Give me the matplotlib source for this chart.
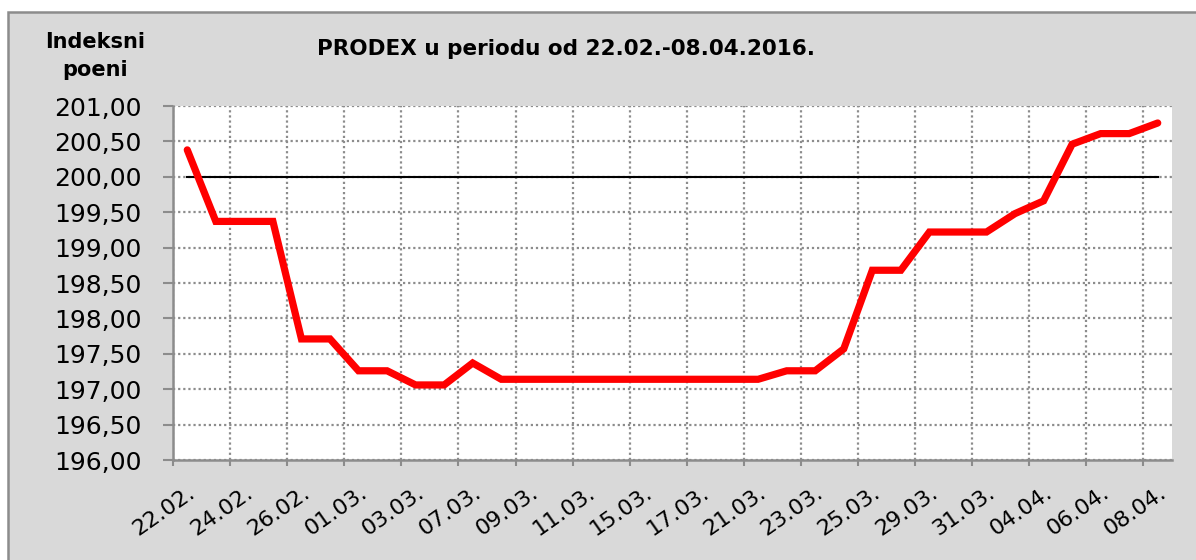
import matplotlib
matplotlib.use("Agg")
import matplotlib.pyplot as plt
from matplotlib.patches import Rectangle
from matplotlib.transforms import ScaledTranslation
import numpy as np

dates = ["22.02.", "23.02.", "24.02.", "25.02.", "26.02.", "29.02.",
         "01.03.", "02.03.", "03.03.", "04.03.", "07.03.", "08.03.",
         "09.03.", "10.03.", "11.03.", "14.03.", "15.03.", "16.03.",
         "17.03.", "18.03.", "21.03.", "22.03.", "23.03.", "24.03.",
         "25.03.", "28.03.", "29.03.", "30.03.", "31.03.", "01.04.",
         "04.04.", "05.04.", "06.04.", "07.04.", "08.04."]
prodex = [200.38, 199.37, 199.37, 199.37, 197.71, 197.71,
          197.26, 197.26, 197.06, 197.06, 197.37, 197.14,
          197.14, 197.14, 197.14, 197.14, 197.14, 197.14,
          197.14, 197.14, 197.14, 197.26, 197.26, 197.57,
          198.68, 198.68, 199.22, 199.22, 199.22, 199.48,
          199.66, 200.46, 200.61, 200.61, 200.76]
baseline = [200.0] * len(dates)
yticks = [196.0, 196.5, 197.0, 197.5, 198.0, 198.5, 199.0, 199.5, 200.0, 200.5, 201.0]

W, H = 1196, 560
fig = plt.figure(figsize=(W / 100, H / 100), dpi=100, facecolor="white")
bg = Rectangle((8 / W, -0.2), 1.2, 1 - 12 / H + 0.2, transform=fig.transFigure,
               facecolor="#d9d9d9", edgecolor="#8c8c8c", linewidth=1.8, zorder=-1)
fig.patches.append(bg)

ax = fig.add_axes([173 / W, 1 - 460 / H, (1172 - 173) / W, (460 - 106) / H])
ax.set_facecolor("white")

n = len(dates)
x = np.arange(n) + 0.5
ax.plot(x, baseline, color="black", linewidth=1.5, zorder=3)
ax.plot(x, prodex, color="#ff0000", linewidth=5.2, solid_capstyle="round",
        solid_joinstyle="miter", zorder=4)

ax.set_xlim(0, n)
ax.set_ylim(196, 201)
ax.set_yticks(yticks)
ax.set_yticklabels([f"{v:.2f}".replace(".", ",") for v in yticks],
                   fontsize=18, family="DejaVu Sans")

ax.set_xticks(np.arange(0, n, 2))
ax.set_xticklabels([])
ax.set_xticks(x[::2], minor=True)
ax.set_xticklabels(dates[::2], minor=True, fontsize=16, rotation=35,
                   ha="right", va="center", rotation_mode="anchor")

ax.grid(True, which="major", color="#8c8c8c", linestyle=(0, (1, 1.3)), linewidth=1.6)
ax.tick_params(axis="y", which="major", length=7.5, width=1.5, color="#8c8c8c",
               pad=15, direction="out")
ax.tick_params(axis="x", which="major", length=4, width=1.5, color="#8c8c8c",
               direction="out")
ax.tick_params(axis="x", which="minor", length=0, pad=22)
for lab in ax.get_xticklabels(minor=True):
    lab.set_transform(lab.get_transform() + ScaledTranslation(6 / 100, 0, fig.dpi_scale_trans))

for s in ["top", "right"]:
    ax.spines[s].set_visible(False)
for s in ["left", "bottom"]:
    ax.spines[s].set_color("#8c8c8c")
    ax.spines[s].set_linewidth(1.8)

fig.text(566 / W, 1 - 49 / H, "PRODEX u periodu od 22.02.-08.04.2016.",
         ha="center", va="center", fontsize=15.5, fontweight="bold")
fig.text(95 / W, 1 - 56 / H, "Indeksni\npoeni", ha="center", va="center",
         fontsize=15, fontweight="bold", linespacing=1.45)

fig.savefig("out.png", dpi=100, facecolor="white")
